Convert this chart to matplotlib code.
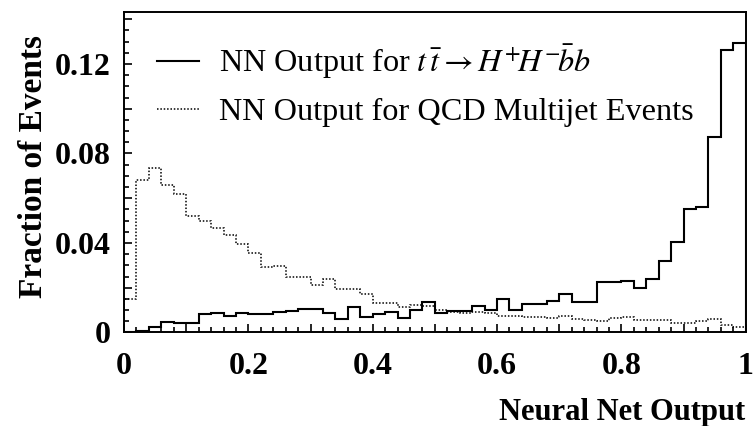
import numpy as np
import matplotlib
matplotlib.use('Agg')
import matplotlib.pyplot as plt
from matplotlib.ticker import MultipleLocator, FuncFormatter

plt.rcParams['font.family'] = ['Liberation Serif', 'DejaVu Serif']
plt.rcParams['mathtext.fontset'] = 'stix'

# 50 bins of 0.02 between 0 and 1
bin_edges = np.linspace(0.0, 1.0, 51)

# NN output, ttbar -> H+H- bbar b (solid)
signal = [0.0002, 0.0007, 0.0026, 0.0045, 0.0044, 0.0041, 0.0081, 0.0085, 0.0075, 0.0089,
          0.0083, 0.0083, 0.0092, 0.0096, 0.0103, 0.0103, 0.0089, 0.0061, 0.0113, 0.0068,
          0.0083, 0.0092, 0.0064, 0.0100, 0.0135, 0.0086, 0.0098, 0.0094, 0.0120, 0.0101,
          0.0150, 0.0100, 0.0126, 0.0126, 0.0142, 0.0173, 0.0135, 0.0138, 0.0224, 0.0224,
          0.0229, 0.0198, 0.0238, 0.0320, 0.0403, 0.0551, 0.0562, 0.0872, 0.1263, 0.1295]

# NN output, QCD multijet (dotted)
qcd = [0.0148, 0.0680, 0.0737, 0.0660, 0.0621, 0.0521, 0.0500, 0.0468, 0.0435, 0.0397,
       0.0354, 0.0292, 0.0295, 0.0246, 0.0246, 0.0210, 0.0241, 0.0193, 0.0193, 0.0170,
       0.0130, 0.0130, 0.0113, 0.0121, 0.0117, 0.0099, 0.0093, 0.0088, 0.0093, 0.0085,
       0.0075, 0.0075, 0.0070, 0.0070, 0.0064, 0.0074, 0.0060, 0.0056, 0.0052, 0.0066,
       0.0071, 0.0056, 0.0054, 0.0054, 0.0044, 0.0044, 0.0050, 0.0060, 0.0035, 0.0026]

label_sig = r'NN Output for $t\,\bar{t} \rightarrow H^{+}\!H^{-}\!\bar{b}b$'
label_qcd = 'NN Output for QCD Multijet Events'

fig = plt.figure(figsize=(7.54, 4.26), dpi=100)
ax = fig.add_axes([0.1645, 0.2195, 0.8245, 0.7523])

ax.stairs(signal, bin_edges, color='black', lw=1.5, label=label_sig)
ax.stairs(qcd, bin_edges, color='black', lw=1.1, linestyle=(0, (1, 1.2)), label=label_qcd)

ax.set_xlim(0, 1)
ax.set_ylim(0, 0.1432)

for sp in ax.spines.values():
    sp.set_linewidth(1.4)

ax.xaxis.set_major_locator(MultipleLocator(0.1))
ax.xaxis.set_minor_locator(MultipleLocator(0.02))
ax.yaxis.set_major_locator(MultipleLocator(0.02))
ax.yaxis.set_minor_locator(MultipleLocator(0.005))


def fmt_x(v, pos):
    k = int(round(v * 10))
    if k % 2:
        return ''
    if k == 0:
        return '0'
    if k == 10:
        return '1'
    return '%.1f' % v


def fmt_y(v, pos):
    k = int(round(v * 100))
    if k % 4:
        return ''
    if k == 0:
        return '0'
    return '%.2f' % v


ax.xaxis.set_major_formatter(FuncFormatter(fmt_x))
ax.yaxis.set_major_formatter(FuncFormatter(fmt_y))
ax.tick_params(which='both', direction='in', top=False, right=False, width=1.2)
ax.tick_params(which='major', length=6)
ax.tick_params(which='minor', length=3.5)
ax.tick_params(axis='x', labelsize=23, pad=14)
ax.tick_params(axis='y', labelsize=23, pad=9.5)
for lab in ax.get_xticklabels() + ax.get_yticklabels():
    lab.set_fontweight('bold')

ax.set_ylabel('Fraction of Events', fontsize=24, fontweight='bold')
ax.yaxis.set_label_coords(-0.12, 0.517)
ax.set_xlabel('Neural Net Output', fontsize=22, fontweight='bold', ha='right')
ax.xaxis.set_label_coords(1.0, -0.205)

leg = ax.legend(loc='upper left', bbox_to_anchor=(0.053, 0.905), frameon=False,
                borderaxespad=0, borderpad=0,
                fontsize=23.2, handlelength=1.3, handletextpad=0.62, labelspacing=0.5)

fig.savefig('out.png', dpi=100)
